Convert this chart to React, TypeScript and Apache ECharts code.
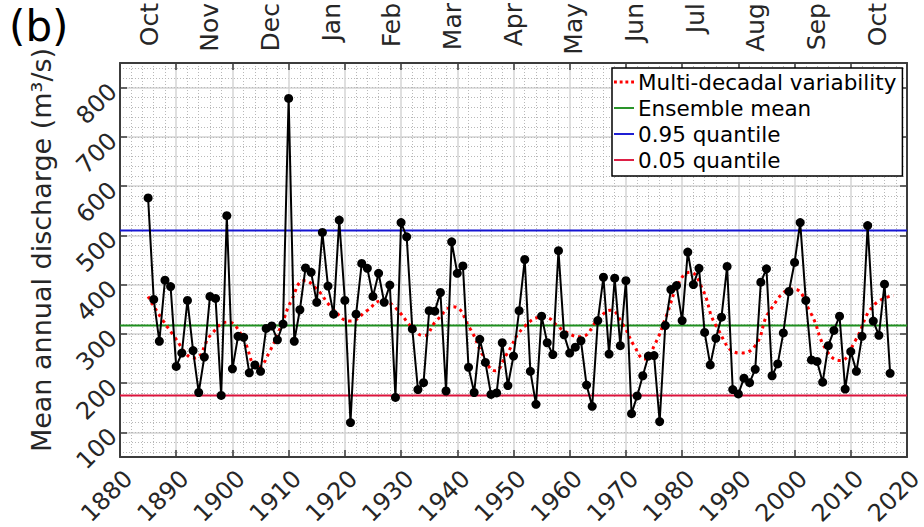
import React, { useEffect, useRef } from 'react';
import * as echarts from 'echarts';

const FONT = '"DejaVu Sans", Verdana, sans-serif';
const TEXT = '#262626';
const FRAME = '#3c3c3c';

// annual series, first value is 1885
const firstYear = 1885;
const discharge = [
  576, 370, 285, 409, 396,
  234, 261, 368, 266, 181, 253, 376, 372, 175, 540,
  229, 295, 293, 221, 237, 224, 311, 316, 288, 320,
  778, 285, 349, 434, 425, 364, 506, 397, 340, 531,
  368, 120, 340, 443, 433, 376, 423, 364, 399, 171,
  526, 497, 310, 187, 201, 347, 346, 384, 184, 487,
  423, 438, 232, 181, 289, 242, 177, 180, 282, 195,
  255, 347, 451, 224, 157, 336, 282, 258, 469, 298,
  261, 273, 286, 196, 153, 327, 415, 259, 413, 276,
  408, 138, 174, 215, 255, 256, 122, 317, 390, 398,
  327, 466, 400, 433, 303, 237, 291, 334, 437, 187,
  178, 210, 201, 228, 405, 432, 215, 239, 302, 386,
  445, 526, 368, 247, 244, 202, 276, 307, 336, 188,
  264, 224, 295, 520, 326, 297, 401, 220,
];

// multi-decadal variability curve, read at its turning / key points
const mdvYears = [
  1885, 1889.5, 1893.3, 1896.3, 1899.2, 1901.5, 1904.6, 1906.7, 1908.8, 1910.5,
  1912.8, 1915, 1917.7, 1921, 1923.9, 1926.6, 1928.6, 1932.2, 1934, 1936.3,
  1939.3, 1942.3, 1944.6, 1946.7, 1948.8, 1951.8, 1955.3, 1958.9, 1961.8, 1965.4,
  1967.2, 1969.5, 1971.5, 1973.3, 1975.2, 1977.1, 1979.6, 1981.4, 1983.5, 1986.2,
  1990.3, 1993, 1995.6, 1999.8, 2002.8, 2005.7, 2008.1, 2010.8, 2014, 2017.6,
];
const mdvValues = [
  376, 297, 251, 300, 324, 300, 232, 266, 320, 368,
  408, 391, 353, 326, 347, 367, 357, 310, 296, 327,
  355, 310, 256, 225, 259, 313, 334, 307, 294, 334,
  348, 318, 275, 249, 280, 334, 408, 425, 394, 313,
  261, 276, 347, 391, 344, 266, 246, 286, 357, 378,
];

const ensembleMean = 317;
const quantile95 = 510;
const quantile05 = 175;

const xMin = 1880;
const xMax = 2020;
const xStep = 10;
const yMin = 50;
const yMax = 850;

const monthLabels = ['Oct', 'Nov', 'Dec', 'Jan', 'Feb', 'Mar', 'Apr', 'May', 'Jun', 'Jul', 'Aug', 'Sep', 'Oct'];

const seriesNames = ['Multi-decadal variability', 'Ensemble mean', '0.95 quantile', '0.05 quantile'];

const DOT_ICON = 'path://M0,0h3v3h-3z M6,0h3v3h-3z M12,0h3v3h-3z M18,0h3v3h-3z';
const LINE_ICON = 'path://M0,0h21v2h-21z';

export default function App() {
  const ref = useRef<HTMLDivElement>(null);

  useEffect(() => {
    if (!ref.current) return;
    const chart = echarts.init(ref.current, null, { renderer: 'svg' });

    const gridLeft = 120;
    const gridTop = 63;
    const gridW = 787;
    const gridH = 394;

    const dischargeData = discharge.map((v, i) => [firstYear + i, v]);
    const mdvData = mdvYears.map((y, i) => [y, mdvValues[i]]);
    const hLine = (v: number) => [[xMin, v], [xMax, v]];

    const tickStyle = { show: true, inside: true, length: 7, lineStyle: { color: FRAME, width: 1.5 } };
    const frameLine = { show: true, lineStyle: { color: FRAME, width: 2 } };

    const monthStart = 149;
    const monthStep = 60.67;

    const option: any = {
      animation: false,
      backgroundColor: '#ffffff',
      textStyle: { fontFamily: FONT },
      grid: {
        left: gridLeft,
        top: gridTop,
        width: gridW,
        height: gridH,
        containLabel: false,
        outerBoundsMode: 'none',
      },
      legend: {
        data: seriesNames.map((n, i) => ({ name: n, icon: i === 0 ? DOT_ICON : LINE_ICON })),
        orient: 'vertical',
        left: 612,
        top: 68,
        padding: [3, 6, 5, 2],
        itemGap: 4,
        itemWidth: 20,
        itemHeight: 12,
        symbolKeepAspect: true,
        itemStyle: { borderWidth: 0 },
        backgroundColor: '#ffffff',
        borderColor: '#000000',
        borderWidth: 1.5,
        borderRadius: 0,
        textStyle: { fontFamily: FONT, fontSize: 21.5, color: '#000000', padding: [0, 0, 0, -1] },
      },
      graphic: [
        {
          type: 'text',
          left: 9,
          top: 5,
          style: { text: '(b)', fontFamily: FONT, fontSize: 42, fill: '#000000' },
        },
        ...monthLabels.map((m, i) => ({
          type: 'text',
          x: monthStart + i * monthStep,
          y: 3,
          rotation: Math.PI / 2,
          style: {
            text: m,
            fontFamily: FONT,
            fontSize: 25,
            fill: TEXT,
            align: 'right',
            verticalAlign: 'middle',
          },
        })),
      ],
      xAxis: [
        {
          type: 'value',
          position: 'bottom',
          min: xMin,
          max: xMax,
          interval: xStep,
          axisLine: frameLine,
          axisTick: tickStyle,
          axisLabel: {
            rotate: 45,
            margin: 9,
            align: 'right',
            verticalAlign: 'top',
            fontFamily: FONT,
            fontSize: 24,
            color: TEXT,
            formatter: (v: number) => String(v),
          },
          splitLine: { show: true, lineStyle: { color: '#d4d4d4', width: 1.5 } },
          minorTick: { show: false, splitNumber: 5 },
          minorSplitLine: { show: true, lineStyle: { color: '#b8b8b8', width: 1, type: [1, 2] } },
        },
        {
          type: 'value',
          position: 'top',
          min: xMin,
          max: xMax,
          interval: xStep,
          axisLine: frameLine,
          axisTick: tickStyle,
          axisLabel: { show: false },
          splitLine: { show: false },
        },
      ],
      yAxis: [
        {
          type: 'value',
          position: 'left',
          min: yMin,
          max: yMax,
          splitNumber: 8,
          name: 'Mean annual discharge (m³/s)',
          nameLocation: 'middle',
          nameRotate: 90,
          nameGap: 65,
          nameTextStyle: { fontFamily: FONT, fontSize: 27, color: TEXT, padding: [0, 0, 0, 20] },
          axisLine: frameLine,
          axisTick: tickStyle,
          axisLabel: {
            rotate: 45,
            margin: 7,
            align: 'right',
            verticalAlign: 'middle',
            fontFamily: FONT,
            fontSize: 24,
            color: TEXT,
            showMinLabel: false,
            showMaxLabel: false,
            formatter: (v: number) => (v % 100 === 0 ? String(v) : ''),
          },
          splitLine: { show: true, lineStyle: { color: '#d4d4d4', width: 1.5 } },
        },
        {
          type: 'value',
          position: 'right',
          min: yMin,
          max: yMax,
          splitNumber: 8,
          axisLine: frameLine,
          axisTick: tickStyle,
          axisLabel: { show: false },
          splitLine: { show: false },
        },
        {
          type: 'value',
          position: 'left',
          min: yMin,
          max: yMax,
          splitNumber: 40,
          axisLine: { show: false },
          axisTick: { show: false },
          axisLabel: { show: false },
          splitLine: { show: true, lineStyle: { color: '#b8b8b8', width: 1, type: [1, 2] } },
        },
      ],
      series: [
        {
          name: seriesNames[0],
          type: 'line',
          data: mdvData,
          smooth: 0.5,
          symbol: 'none',
          z: 3,
          lineStyle: { color: '#ff0000', width: 3, type: [3, 4] },
          itemStyle: { color: '#ff0000' },
        },
        {
          name: seriesNames[1],
          type: 'line',
          data: hLine(ensembleMean),
          symbol: 'none',
          z: 2,
          lineStyle: { color: '#1f8f1f', width: 2 },
          itemStyle: { color: '#1f8f1f' },
        },
        {
          name: seriesNames[2],
          type: 'line',
          data: hLine(quantile95),
          symbol: 'none',
          z: 2,
          lineStyle: { color: '#1414d2', width: 2 },
          itemStyle: { color: '#1414d2' },
        },
        {
          name: seriesNames[3],
          type: 'line',
          data: hLine(quantile05),
          symbol: 'none',
          z: 2,
          lineStyle: { color: '#dc143c', width: 2 },
          itemStyle: { color: '#dc143c' },
        },
        {
          name: 'Discharge',
          type: 'line',
          data: dischargeData,
          symbol: 'circle',
          symbolSize: 9,
          z: 4,
          lineStyle: { color: '#000000', width: 2 },
          itemStyle: { color: '#000000' },
        },
      ],
    };

    chart.setOption(option);
    return () => chart.dispose();
  }, []);

  return (
    <div
      ref={ref}
      style={{ position: 'fixed', left: 0, top: 0, width: 924, height: 527, background: '#ffffff' }}
    />
  );
}
